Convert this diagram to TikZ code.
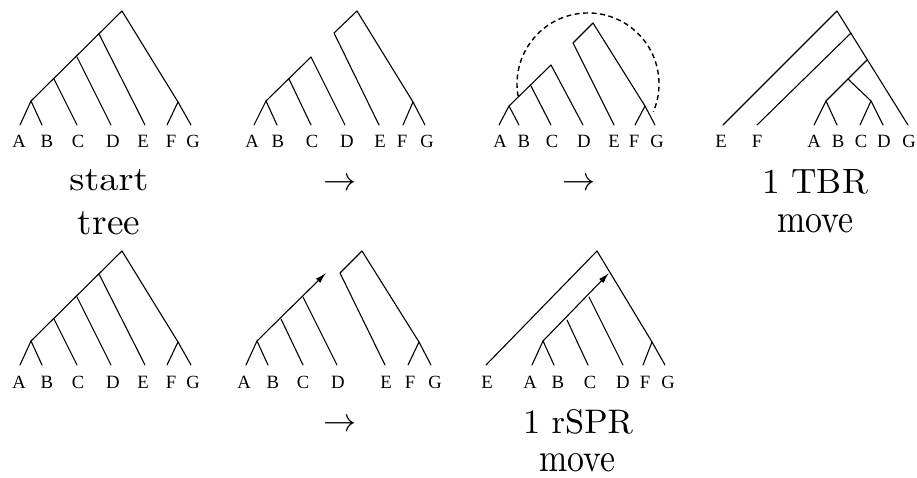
\documentclass[tikz,border=0pt]{standalone}
\usepackage{fontspec}
\newfontfamily\leaffont{Liberation Serif}
\usetikzlibrary{arrows.meta}
\tikzset{
  br/.style={line width=1.1pt, line cap=round, line join=round},
  leaf/.style={anchor=base, inner sep=0pt},
  captext/.style={anchor=base, inner sep=0pt},
  nxt/.style={anchor=base, inner sep=0pt},
  movearrow/.style={br, -{Latex[length=11pt,width=6pt]}},
  dashcurve/.style={line width=1.4pt, dash pattern=on 5pt off 3.5pt}
}
\newcommand{\nextarrow}{\resizebox{33pt}{!}{$\rightarrow$}}
\newcommand{\lf}[1]{\resizebox{!}{12.3pt}{\leaffont #1}}
\begin{document}
\begin{tikzpicture}[x=1pt,y=-1pt]
\useasboundingbox (0,0) rectangle (917,478);

% ---------- Tree 1 (start tree) ----------
\coordinate (r1) at (122,11);
\coordinate (n1a) at (99,34);
\coordinate (n1b) at (77,57);
\coordinate (n1c) at (54,79);
\coordinate (ab1) at (31,101);
\coordinate (fg1) at (178,102);
\coordinate (A1) at (20,125); \coordinate (B1) at (42,125);
\coordinate (C1) at (77,125); \coordinate (D1) at (111,125);
\coordinate (E1) at (145,125); \coordinate (F1) at (167,125);
\coordinate (G1) at (191,125);
\draw[br] (A1) -- (ab1) -- (B1);
\draw[br] (ab1) -- (r1) -- (fg1) -- (G1);
\draw[br] (fg1) -- (F1);
\draw[br] (n1c) -- (C1);
\draw[br] (n1b) -- (D1);
\draw[br] (n1a) -- (E1);
\node[leaf] (la1) at (19,148) {\lf{A}};
\node[leaf] (lb1) at (47,148) {\lf{B}};
\node[leaf] (lc1) at (78,148) {\lf{C}};
\node[leaf] (ld1) at (113,148) {\lf{D}};
\node[leaf] (le1) at (143,148) {\lf{E}};
\node[leaf] (lf1) at (171,148) {\lf{F}};
\node[leaf] (lg1) at (193,148) {\lf{G}};
\node[captext] (start) at (109,191) {\resizebox{79pt}{21pt}{start}};
\node[captext] (tree) at (109,234) {\resizebox{62pt}{23pt}{tree}};

% ---------- Tree 2 ----------
\coordinate (r2) at (357,11);
\coordinate (l2) at (334,33);
\coordinate (fg2) at (413,102);
\coordinate (t2) at (311,57);
\coordinate (c2) at (289,79);
\coordinate (ab2) at (266,101);
\coordinate (A2) at (254,125); \coordinate (B2) at (277,125);
\coordinate (C2) at (311,125); \coordinate (D2) at (345,125);
\coordinate (E2) at (379,125); \coordinate (F2) at (403,125);
\coordinate (G2) at (425,125);
\draw[br] (E2) -- (l2) -- (r2) -- (fg2) -- (G2);
\draw[br] (fg2) -- (F2);
\draw[br] (A2) -- (ab2) -- (B2);
\draw[br] (ab2) -- (t2) -- (D2);
\draw[br] (c2) -- (C2);
\node[leaf] (la2) at (252,148) {\lf{A}};
\node[leaf] (lb2) at (278,148) {\lf{B}};
\node[leaf] (lc2) at (312,148) {\lf{C}};
\node[leaf] (ld2) at (347,148) {\lf{D}};
\node[leaf] (le2) at (380,148) {\lf{E}};
\node[leaf] (lf2) at (402,148) {\lf{F}};
\node[leaf] (lg2) at (427,148) {\lf{G}};
\node[nxt] (arr2) at (340,191) {\nextarrow};

% ---------- Tree 3 ----------
\coordinate (r3) at (593,23);
\coordinate (l3) at (573,43);
\coordinate (fg3) at (645,106);
\coordinate (t3) at (551,65);
\coordinate (c3) at (531,86);
\coordinate (ab3) at (509,106);
\coordinate (A3) at (499,125); \coordinate (B3) at (519,125);
\coordinate (C3) at (551,125); \coordinate (D3) at (583,125);
\coordinate (E3) at (614,125); \coordinate (F3) at (635,125);
\coordinate (G3) at (655,125);
\draw[br] (E3) -- (l3) -- (r3) -- (fg3) -- (G3);
\draw[br] (fg3) -- (F3);
\draw[br] (A3) -- (ab3) -- (B3);
\draw[br] (ab3) -- (t3) -- (D3);
\draw[br] (c3) -- (C3);
\coordinate (s3) at (518.1,96.3);
\draw[dashcurve] (s3) arc[start angle=170, end angle=383, radius=71];
\node[leaf] (la3) at (500,148) {\lf{A}};
\node[leaf] (lb3) at (524,148) {\lf{B}};
\node[leaf] (lc3) at (552,148) {\lf{C}};
\node[leaf] (ld3) at (584,148) {\lf{D}};
\node[leaf] (le3) at (614,148) {\lf{E}};
\node[leaf] (lf3) at (634,148) {\lf{F}};
\node[leaf] (lg3) at (657,148) {\lf{G}};
\node[nxt] (arr3) at (579,191) {\nextarrow};

% ---------- Tree 4 (1 TBR move) ----------
\coordinate (r4) at (837,11);
\coordinate (n42) at (851,33);
\coordinate (n43) at (867,60);
\coordinate (n44) at (848,79);
\coordinate (ab4) at (826,101);
\coordinate (cd4) at (871,101);
\coordinate (E4) at (723,125); \coordinate (F4) at (757,125);
\coordinate (A4) at (814,125); \coordinate (B4) at (837,125);
\coordinate (C4) at (860,125); \coordinate (D4) at (883,125);
\coordinate (G4) at (908,125);
\draw[br] (E4) -- (r4) -- (G4);
\draw[br] (n42) -- (F4);
\draw[br] (n43) -- (n44) -- (ab4);
\draw[br] (n44) -- (cd4);
\draw[br] (A4) -- (ab4) -- (B4);
\draw[br] (C4) -- (cd4) -- (D4);
\node[leaf] (le4) at (721,148) {\lf{E}};
\node[leaf] (lf4) at (757,148) {\lf{F}};
\node[leaf] (la4) at (814,148) {\lf{A}};
\node[leaf] (lb4) at (838,148) {\lf{B}};
\node[leaf] (lc4) at (861,148) {\lf{C}};
\node[leaf] (ld4) at (884,148) {\lf{D}};
\node[leaf] (lg4) at (909,148) {\lf{G}};
\node[captext] (tbr) at (815,194) {\resizebox{106pt}{24pt}{1 TBR}};
\node[captext] (move4) at (815,233) {\resizebox{76pt}{18pt}{move}};

% ---------- Tree 5 ----------
\coordinate (r5) at (122,251);
\coordinate (n5a) at (99,274);
\coordinate (n5b) at (77,297);
\coordinate (n5c) at (54,319);
\coordinate (ab5) at (31,341);
\coordinate (fg5) at (178,342);
\coordinate (A5) at (20,365); \coordinate (B5) at (42,365);
\coordinate (C5) at (77,365); \coordinate (D5) at (111,365);
\coordinate (E5) at (145,365); \coordinate (F5) at (167,365);
\coordinate (G5) at (191,365);
\draw[br] (A5) -- (ab5) -- (B5);
\draw[br] (ab5) -- (r5) -- (fg5) -- (G5);
\draw[br] (fg5) -- (F5);
\draw[br] (n5c) -- (C5);
\draw[br] (n5b) -- (D5);
\draw[br] (n5a) -- (E5);
\node[leaf] (la5) at (19,388) {\lf{A}};
\node[leaf] (lb5) at (47,388) {\lf{B}};
\node[leaf] (lc5) at (78,388) {\lf{C}};
\node[leaf] (ld5) at (113,388) {\lf{D}};
\node[leaf] (le5) at (143,388) {\lf{E}};
\node[leaf] (lf5) at (171,388) {\lf{F}};
\node[leaf] (lg5) at (193,388) {\lf{G}};

% ---------- Tree 6 ----------
\coordinate (r6) at (362,251);
\coordinate (l6) at (340,273);
\coordinate (fg6) at (419,342);
\coordinate (ab6) at (257,341);
\coordinate (c6) at (281,319);
\coordinate (d6) at (303,297);
\coordinate (tip6) at (326,273);
\coordinate (A6) at (246,365); \coordinate (B6) at (268,365);
\coordinate (C6) at (303,365); \coordinate (D6) at (337,365);
\coordinate (E6) at (385,365); \coordinate (F6) at (408,365);
\coordinate (G6) at (431,365);
\draw[br] (E6) -- (l6) -- (r6) -- (fg6) -- (G6);
\draw[br] (fg6) -- (F6);
\draw[br] (A6) -- (ab6) -- (B6);
\draw[movearrow] (ab6) -- (tip6);
\draw[br] (c6) -- (C6);
\draw[br] (d6) -- (D6);
\node[leaf] (la6) at (244,388) {\lf{A}};
\node[leaf] (lb6) at (273,388) {\lf{B}};
\node[leaf] (lc6) at (303,388) {\lf{C}};
\node[leaf] (ld6) at (338,388) {\lf{D}};
\node[leaf] (le6) at (386,388) {\lf{E}};
\node[leaf] (lf6) at (410,388) {\lf{F}};
\node[leaf] (lg6) at (435,388) {\lf{G}};
\node[nxt] (arr6) at (340,431) {\nextarrow};

% ---------- Tree 7 (1 rSPR move) ----------
\coordinate (r7) at (597,251);
\coordinate (fg7) at (652,342);
\coordinate (att7) at (609,273);
\coordinate (ab7) at (543,341);
\coordinate (c7) at (567,320);
\coordinate (d7) at (589,297);
\coordinate (E7) at (486,365); \coordinate (A7) at (532,365);
\coordinate (B7) at (554,365); \coordinate (C7) at (588,365);
\coordinate (D7) at (623,365); \coordinate (F7) at (643,365);
\coordinate (G7) at (665,365);
\draw[br] (E7) -- (r7) -- (fg7) -- (G7);
\draw[br] (fg7) -- (F7);
\draw[br] (A7) -- (ab7) -- (B7);
\draw[movearrow] (ab7) -- (att7);
\draw[br] (c7) -- (C7);
\draw[br] (d7) -- (D7);
\node[leaf] (le7) at (487,388) {\lf{E}};
\node[leaf] (la7) at (530,388) {\lf{A}};
\node[leaf] (lb7) at (558,388) {\lf{B}};
\node[leaf] (lc7) at (590,388) {\lf{C}};
\node[leaf] (ld7) at (623,388) {\lf{D}};
\node[leaf] (lf7) at (645,388) {\lf{F}};
\node[leaf] (lg7) at (668,388) {\lf{G}};
\node[captext] (rspr) at (578,433) {\resizebox{110pt}{24pt}{1 rSPR}};
\node[captext] (move7) at (577,471) {\resizebox{76pt}{18pt}{move}};
\end{tikzpicture}
\end{document}
